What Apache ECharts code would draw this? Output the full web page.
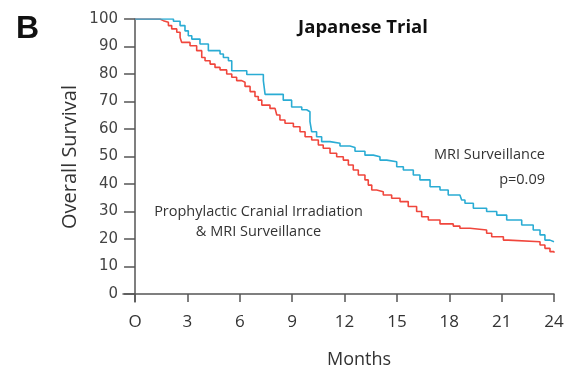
<!DOCTYPE html>
<html>
<head>
<meta charset="utf-8">
<script src="https://cdn.jsdelivr.net/npm/echarts@6/dist/echarts.min.js"></script>
<style>
html,body{margin:0;padding:0;background:#fff;}
#chart{width:567px;height:370px;}
</style>
</head>
<body>
<div id="chart"></div>
<script>
// Tick labels
var xTickValues = [0, 3, 6, 9, 12, 15, 18, 21, 24];
var xTickLabels = ['O', '3', '6', '9', '12', '15', '18', '21', '24'];
var yTickValues = [0, 10, 20, 30, 40, 50, 60, 70, 80, 90, 100];

// MRI Surveillance (blue) survival steps: [month, survival %]
var mriMonths = [0, 2.2, 2.58, 2.86, 3.05, 3.25, 3.72, 4.2, 4.87, 5.06, 5.35, 5.54, 6.4, 7.35, 7.45, 8.49, 8.97, 9.55, 9.83, 10.02, 10.12, 10.4, 10.69, 11.17, 11.74, 12.31, 12.6, 13.17, 13.65, 14.03, 14.42, 14.99, 15.37, 15.94, 16.32, 16.9, 17.47, 17.94, 18.61, 18.71, 18.9, 19.38, 20.14, 20.72, 21.29, 22.15, 22.81, 23.2, 23.48, 23.77, 24];
var mriValues = [100, 99.2, 97.6, 95.7, 93.9, 92.7, 90.9, 88.5, 87.3, 86, 84.8, 81.2, 79.8, 77.6, 72.6, 70.5, 68, 67, 66.3, 62.7, 59, 57.2, 55.4, 54.8, 53.8, 53.3, 51.9, 50.5, 49.9, 48.7, 48.1, 46.3, 45.1, 43.3, 41.5, 39, 37.8, 36, 35.4, 34.2, 33, 31.2, 30, 28.7, 26.9, 25.1, 23.3, 21.5, 19.6, 19, 19];

// Prophylactic Cranial Irradiation & MRI Surveillance (red)
var pciMonths = [0, 1.43, 1.62, 1.91, 2.1, 2.39, 2.58, 2.67, 3.15, 3.53, 3.82, 4.01, 4.3, 4.58, 4.87, 5.25, 5.54, 5.82, 6.11, 6.3, 6.59, 6.87, 7.06, 7.26, 7.73, 8.02, 8.12, 8.3, 8.59, 9.07, 9.45, 9.74, 10.12, 10.5, 10.78, 11.17, 11.55, 11.93, 12.22, 12.5, 12.79, 13.17, 13.36, 13.56, 13.84, 14.22, 14.7, 15.18, 15.65, 16.13, 16.42, 16.8, 17.47, 18.23, 18.61, 19.19, 20.14, 20.43, 21.1, 21.38, 23.2, 23.48, 23.77, 24];
var pciValues = [100, 99.4, 98.8, 97.6, 96.4, 95.2, 93.3, 91.5, 90.3, 88.5, 86, 84.8, 83.6, 82.4, 81.5, 80, 78.8, 77.6, 77, 75.5, 73.6, 71.8, 70.5, 68.7, 67.5, 66.9, 65.1, 63.3, 62.1, 60.8, 59, 57.2, 56, 54.2, 53, 51.2, 49.9, 48.7, 46.9, 45.1, 43.3, 41.5, 39.6, 37.8, 37.2, 36, 34.8, 33.6, 31.8, 30, 28.1, 26.9, 25.5, 24.7, 23.9, 23.3, 22.1, 20.8, 19.6, 19, 17.8, 16.6, 15.4, 15];

function zip(a, b) { return a.map(function (v, i) { return [v, b[i]]; }); }

var chart = echarts.init(document.getElementById('chart'), null, { renderer: 'canvas' });
var axisColor = '#555';
var font = '"Open Sans", sans-serif';

chart.setOption({
  animation: false,
  backgroundColor: '#fff',
  grid: { left: 123, right: 13, top: 19, bottom: 68, containLabel: false },
  xAxis: {
    type: 'value', min: -0.69, max: 24,
    axisLine: { show: true, onZero: true, lineStyle: { color: axisColor, width: 1.5 } },
    axisTick: { show: true, inside: false, length: 8, customValues: xTickValues, lineStyle: { color: axisColor, width: 1.5 } },
    axisLabel: {
      customValues: xTickValues, margin: 12, fontSize: 17, color: '#333', fontFamily: font,
      formatter: function (v) { var i = xTickValues.indexOf(v); return i >= 0 ? xTickLabels[i] : ''; }
    },
    splitLine: { show: false }
  },
  yAxis: {
    type: 'value', min: -2.9, max: 100,
    axisLine: { show: true, onZero: true, lineStyle: { color: axisColor, width: 1.5 } },
    axisTick: { show: true, inside: false, length: 11, customValues: yTickValues, lineStyle: { color: axisColor, width: 1.5 } },
    axisLabel: { customValues: yTickValues, margin: 5, fontSize: 15, color: '#444', fontFamily: '"DejaVu Sans", Verdana, sans-serif' },
    splitLine: { show: false }
  },
  series: [
    {
      type: 'line', name: 'Prophylactic Cranial Irradiation & MRI Surveillance',
      data: zip(pciMonths, pciValues), step: 'end', showSymbol: false, z: 2,
      lineStyle: { color: '#f0463c', width: 1.6 }
    },
    {
      type: 'line', name: 'MRI Surveillance',
      data: zip(mriMonths, mriValues), step: 'end', showSymbol: false, z: 3,
      lineStyle: { color: '#2aacd4', width: 1.6 }
    }
  ],
  graphic: [
    { type: 'text', left: 16, top: 13, style: { text: 'B', font: 'bold 32px "Liberation Sans", Arial, sans-serif', fill: '#111' } },
    { type: 'text', x: 363, y: 28, style: { text: 'Japanese Trial', font: 'bold 18.5px "Open Sans", sans-serif', fill: '#111', align: 'center', verticalAlign: 'middle' } },
    { type: 'text', x: 545, y: 155, style: { text: 'MRI Surveillance', font: '14.5px "Open Sans", sans-serif', fill: '#333', align: 'right', verticalAlign: 'middle' } },
    { type: 'text', x: 545, y: 180, style: { text: 'p=0.09', font: '14.5px "Open Sans", sans-serif', fill: '#333', align: 'right', verticalAlign: 'middle' } },
    { type: 'text', x: 258.5, y: 212, style: { text: 'Prophylactic Cranial Irradiation', font: '14.5px "Open Sans", sans-serif', fill: '#333', align: 'center', verticalAlign: 'middle' } },
    { type: 'text', x: 258.5, y: 232, style: { text: '& MRI Surveillance', font: '14.5px "Open Sans", sans-serif', fill: '#333', align: 'center', verticalAlign: 'middle' } },
    { type: 'text', x: 359, y: 360, style: { text: 'Months', font: '18px "Open Sans", sans-serif', fill: '#333', align: 'center', verticalAlign: 'middle' } },
    { type: 'text', x: 70, y: 157, rotation: Math.PI / 2, style: { text: 'Overall Survival', font: '20px "Open Sans", sans-serif', fill: '#333', align: 'center', verticalAlign: 'middle' } }
  ]
});
</script>
</body>
</html>
